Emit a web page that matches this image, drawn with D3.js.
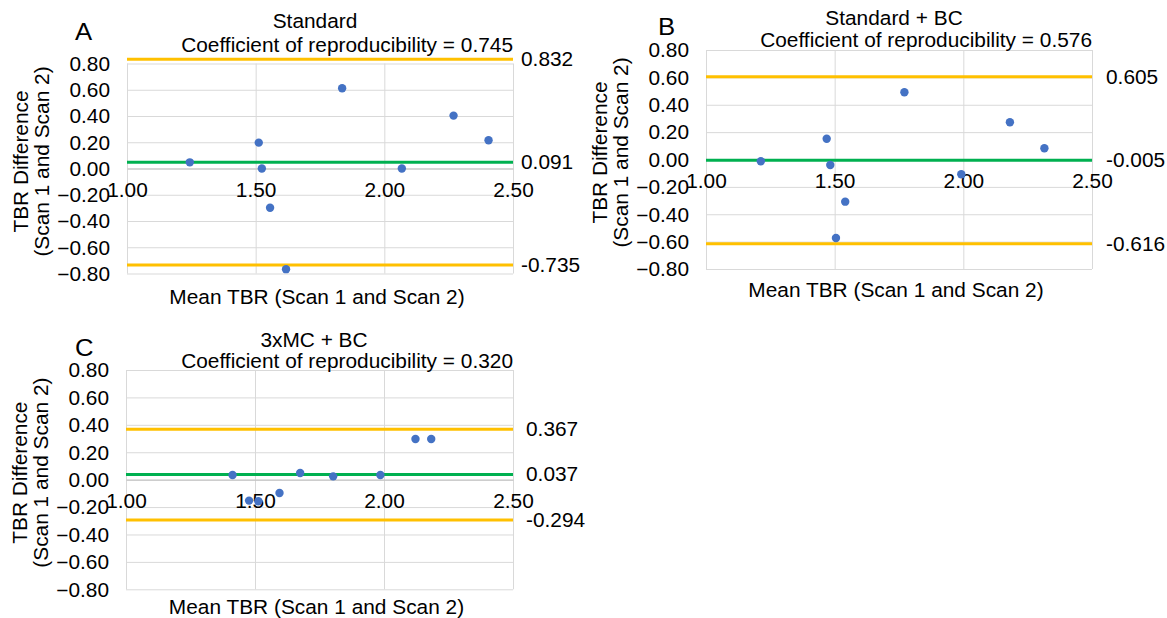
<!DOCTYPE html>
<html>
<head>
<meta charset="utf-8">
<script src="https://cdn.jsdelivr.net/npm/d3@7"></script>
<style>
  body { margin: 0; background: #fff; }
  svg text { font-family: "Liberation Sans", Arial, sans-serif; fill: #000; }
</style>
</head>
<body>
<div id="chart"></div>
<script>
// values
const panelLetters = ["A", "B", "C"];
const panelTitles = ["Standard", "Standard + BC", "3xMC + BC"];
const coefficients = ["0.745", "0.576", "0.320"];

const meanA = [1.244, 1.512, 1.524, 1.556, 1.618, 1.836, 2.068, 2.269, 2.405];
const diffA = [0.047, 0.197, 0.000, -0.299, -0.767, 0.612, 0.000, 0.403, 0.215];
const meanB = [1.213, 1.469, 1.483, 1.505, 1.541, 1.771, 1.992, 2.181, 2.315];
const diffB = [-0.013, 0.152, -0.040, -0.573, -0.308, 0.491, -0.108, 0.272, 0.082];
const meanC = [1.413, 1.477, 1.513, 1.595, 1.675, 1.803, 1.986, 2.122, 2.183];
const diffC = [0.034, -0.153, -0.158, -0.097, 0.049, 0.024, 0.034, 0.297, 0.297];

const upperLimits = [0.832, 0.605, 0.367];
const lowerLimits = [-0.735, -0.616, -0.294];
const biasLines = [0.048, -0.005, 0.037];
const upperLabels = ["0.832", "0.605", "0.367"];
const biasLabels = ["0.091", "-0.005", "0.037"];
const lowerLabels = ["-0.735", "-0.616", "-0.294"];

const xTicks = [1.00, 1.50, 2.00, 2.50];
const yTicks = [-0.80, -0.60, -0.40, -0.20, 0.00, 0.20, 0.40, 0.60, 0.80];

const xTitle = "Mean TBR (Scan 1 and Scan 2)";
const yTitle1 = "TBR Difference";
const yTitle2 = "(Scan 1 and Scan 2)";

const series = [[meanA, diffA], [meanB, diffB], [meanC, diffC]];

// layout
const width = 1167, height = 618;
const SX = 1.07;       // text looks a bit wide in the source
const FS = 19.5;
const layout = [
  { left: 127, right: 513, top: 63.5, bottom: 273.5, letter: [75, 40], t1: 28, t2: 52, lab: 521, xt: 30 },
  { left: 706, right: 1092, top: 50, bottom: 269, letter: [658, 35], t1: 25, t2: 47, lab: 1106, xt: 28 },
  { left: 126, right: 513, top: 370, bottom: 589.3, letter: [75, 356], t1: 347, t2: 368, lab: 526, xt: 25 }
];

const colors = { dot: "#4472C4", limit: "#FFC000", bias: "#00B050", grid: "#D9D9D9", axis: "#BFBFBF" };

const svg = d3.select("#chart").append("svg")
  .attr("width", width)
  .attr("height", height);

function label(sel, x, y, str, anchor, size, rotate) {
  return sel.append("text")
    .attr("transform", `translate(${x},${y})` + (rotate ? " rotate(-90)" : "") + ` scale(${SX},1)`)
    .attr("text-anchor", anchor || "start")
    .style("font-size", (size || FS) + "px")
    .text(str);
}

layout.forEach(function(L, i) {
  const g = svg.append("g");
  const h = L.bottom - L.top;
  const w = L.right - L.left;

  const x = d3.scaleLinear().domain([1, 2.5]).range([L.left, L.right]);
  const y = d3.scaleLinear().domain([-0.8, 0.8]).range([L.bottom, L.top]);

  // horizontal grid + y tick labels
  const yAxis = g.append("g")
    .attr("transform", `translate(${L.left},0)`)
    .call(d3.axisLeft(y).tickValues(yTicks).tickSize(-w).tickPadding(0).tickFormat(d3.format(".2f")));
  yAxis.select(".domain").remove();
  yAxis.selectAll("line").attr("stroke", colors.grid);
  yAxis.selectAll("text")
    .attr("x", null).attr("dy", "0.35em")
    .attr("transform", `translate(-17,0) scale(${SX},1)`)
    .style("font-size", FS + "px")
    .attr("font-family", null);

  // vertical grid
  const xGrid = g.append("g")
    .attr("transform", `translate(0,${L.bottom})`)
    .call(d3.axisBottom(x).tickValues(xTicks).tickSize(-h).tickFormat(""));
  xGrid.select(".domain").remove();
  xGrid.selectAll("line").attr("stroke", colors.grid);

  // x axis sitting on zero
  const xAxis = g.append("g")
    .attr("transform", `translate(0,${y(0)})`)
    .call(d3.axisBottom(x).tickValues(xTicks).tickSize(0).tickPadding(0).tickFormat(d3.format(".2f")));
  xAxis.select(".domain").attr("stroke", colors.axis);
  xAxis.selectAll("text")
    .attr("y", null).attr("dy", null)
    .attr("transform", `translate(0,28.5) scale(${SX},1)`)
    .style("font-size", FS + "px")
    .attr("font-family", null);

  // limits of agreement and bias
  [upperLimits[i], lowerLimits[i]].forEach(function(v) {
    g.append("line")
      .attr("x1", L.left).attr("x2", L.right)
      .attr("y1", y(v)).attr("y2", y(v))
      .attr("stroke", colors.limit).attr("stroke-width", 3);
  });
  g.append("line")
    .attr("x1", L.left).attr("x2", L.right)
    .attr("y1", y(biasLines[i])).attr("y2", y(biasLines[i]))
    .attr("stroke", colors.bias).attr("stroke-width", 3);

  // dots
  const [mx, dy] = series[i];
  g.selectAll("circle")
    .data(d3.range(mx.length))
    .join("circle")
      .attr("cx", k => x(mx[k]))
      .attr("cy", k => y(dy[k]))
      .attr("r", 4.2)
      .attr("fill", colors.dot);

  // right side labels
  label(g, L.lab, y(upperLimits[i]), upperLabels[i]).attr("dy", "0.35em");
  label(g, L.lab, y(biasLines[i]), biasLabels[i]).attr("dy", "0.35em");
  label(g, L.lab, y(lowerLimits[i]), lowerLabels[i]).attr("dy", "0.35em");

  // titles
  label(g, L.letter[0], L.letter[1], panelLetters[i], "start", 24);
  label(g, L.left + 188, L.t1, panelTitles[i], "middle");
  label(g, L.right, L.t2, "Coefficient of reproducibility = " + coefficients[i], "end");

  // axis titles
  label(g, (L.left + L.right) / 2 - 3, L.bottom + L.xt, xTitle, "middle");
  const yc = (L.top + L.bottom) / 2 - 7;
  label(g, L.left - 99, yc, yTitle1, "middle", FS, true);
  label(g, L.left - 78, yc, yTitle2, "middle", FS, true);
});
</script>
</body>
</html>
